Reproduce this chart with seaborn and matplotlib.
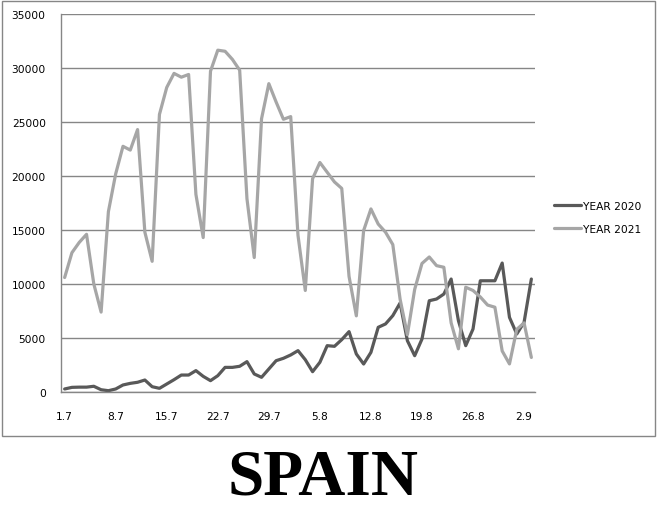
import pandas as pd
import seaborn as sns
import matplotlib.pyplot as plt
from matplotlib.patches import Rectangle
from matplotlib.ticker import MultipleLocator, FixedLocator

# daily values, 1.7 to 3.9
year_2020 = [280, 430, 450, 450, 530, 210, 120, 280, 650, 800,
             900, 1110, 490, 340, 740, 1140, 1570, 1570, 1980, 1450,
             1050, 1510, 2280, 2280, 2380, 2810, 1670, 1360, 2130, 2900,
             3120, 3430, 3830, 2990, 1880, 2750, 4290, 4230, 4850, 5590,
             3520, 2590, 3670, 5990, 6300, 7070, 8240, 4750, 3360, 4900,
             8450, 8610, 9070, 10460, 6600, 4290, 5830, 10300, 10300, 10300,
             11940, 6910, 5370, 6450, 10460]
year_2021 = [10600, 12900, 13850, 14600, 10000, 7400, 16700, 20200, 22750, 22400,
             24300, 14800, 12100, 25700, 28200, 29500, 29150, 29400, 18300, 14300,
             29700, 31650, 31550, 30800, 29800, 17900, 12450, 25300, 28550, 26850,
             25250, 25500, 14500, 9400, 19750, 21250, 20350, 19450, 18850, 10700,
             7050, 14950, 16950, 15550, 14800, 13650, 8600, 5300, 9500, 11900,
             12500, 11700, 11550, 6400, 4000, 9700, 9400, 8800, 8050, 7850,
             3800, 2600, 5800, 6400, 3200]
tick_labels = ['1.7', '8.7', '15.7', '22.7', '29.7', '5.8', '12.8', '19.8', '26.8', '2.9']

days = list(range(len(year_2020)))
df = pd.DataFrame({
    'day': days + days,
    'cases': year_2020 + year_2021,
    'series': ['YEAR 2020'] * len(days) + ['YEAR 2021'] * len(days),
})

sns.set_style('white')
plt.rcParams['font.family'] = ['DejaVu Sans']
plt.rcParams['text.color'] = 'black'

fig = plt.figure(figsize=(6.58, 5.06), dpi=100)
ax = fig.add_axes([61 / 658, 1 - 393 / 506, 474 / 658, 378 / 506])

sns.lineplot(data=df, x='day', y='cases', hue='series', ax=ax,
             palette={'YEAR 2020': '#595959', 'YEAR 2021': '#A6A6A6'},
             linewidth=2.3)

ax.set_xlim(-0.5, len(days) - 0.5)
ax.set_ylim(0, 35000)
ax.yaxis.set_major_locator(MultipleLocator(5000))
ax.grid(axis='y', color='#868686', linewidth=1)
ax.set_axisbelow(True)

ax.set_xticks(range(0, len(days), 7))
ax.set_xticklabels(tick_labels)
ax.xaxis.set_minor_locator(FixedLocator([i - 0.5 for i in range(0, len(days), 7)]))
ax.tick_params(axis='x', which='major', length=0, pad=14, labelsize=7.7, labelcolor='black')
ax.tick_params(axis='x', which='minor', length=5, width=1, color='#868686', direction='out')
ax.tick_params(axis='y', length=0, pad=11, labelsize=7.7, labelcolor='black')

for side in ['top', 'right']:
    ax.spines[side].set_visible(False)
for side in ['left', 'bottom']:
    ax.spines[side].set_color('#868686')
    ax.spines[side].set_linewidth(1)

ax.set_xlabel('')
ax.set_ylabel('')

ax.legend(loc='center left', bbox_to_anchor=(554 / 658, 1 - 218.5 / 506),
          bbox_transform=fig.transFigure, frameon=False, fontsize=7.7,
          borderpad=0, borderaxespad=0, handlelength=2.5, handletextpad=0.2,
          labelspacing=1.25)

# outer chart border
fig.patches.append(Rectangle((2 / 658, 1 - 437 / 506), 653 / 658, 435 / 506,
                             transform=fig.transFigure, fill=False,
                             edgecolor='#868686', linewidth=1))

fig.text(323 / 658, 11 / 506, 'SPAIN', ha='center', va='baseline', color='black',
         family='Liberation Serif', fontweight='bold', fontsize=47)

fig.savefig('out.png', dpi=100)
